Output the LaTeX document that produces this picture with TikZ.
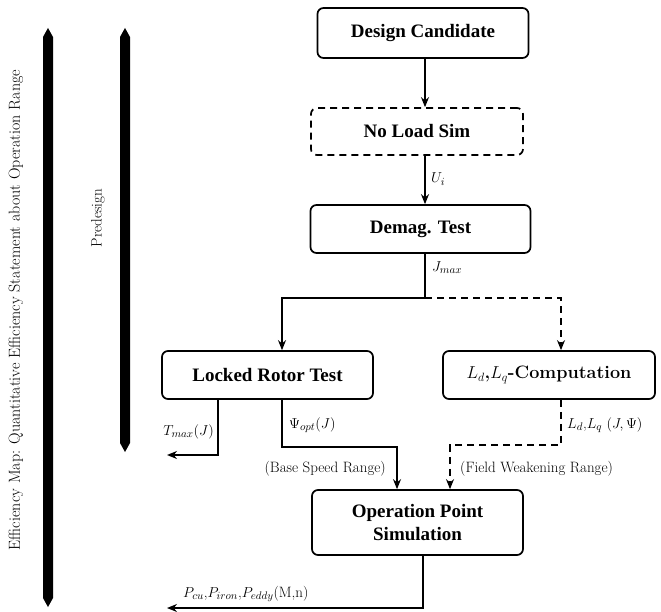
\documentclass[tikz,border=0pt]{standalone}
\usepackage{fontspec}
\newfontfamily\boxfont{Liberation Serif}
\usetikzlibrary{arrows.meta}
\begin{document}
\begin{tikzpicture}[x=1pt,y=-1pt,
  box/.style={draw, line width=1.7pt, rounded corners=6pt, align=center, inner sep=0pt,
    font=\boxfont\bfseries\fontsize{19}{23}\selectfont},
  conn/.style={line width=1.6pt, -{Stealth[length=10pt,width=8pt]}},
  dsh/.style={dash pattern=on 7pt off 5pt},
  lbl/.style={font=\fontsize{15}{17}\selectfont, inner sep=0pt},
  bigarrow/.style={fill=black}]
\useasboundingbox (0,0) rectangle (661,612);
% boxes
\node[box, minimum width=211pt, minimum height=50pt] (dc) at (423,33) {Design Candidate};
\node[box, dsh, minimum width=212pt, minimum height=47pt] (nl) at (417,131.5) {No Load Sim};
\node[box, minimum width=220pt, minimum height=48pt] (dt) at (420.5,229) {Demag. Test};
\node[box, minimum width=211pt, minimum height=48pt] (lr) at (267.5,375) {Locked Rotor Test};
\node[box, minimum width=212pt, minimum height=48pt, font=\bfseries\fontsize{18}{21}\selectfont] (ld) at (549,375) {$L_d$,$L_q$-Computation};
\node[box, minimum width=211pt, minimum height=65pt] (op) at (417.5,522.5) {Operation Point\\Simulation};
% coordinates
\coordinate (spine) at (425,0);
\coordinate (split) at (425,298);
\coordinate (lrin) at (282,0);
\coordinate (ldin) at (561,0);
\coordinate (tx) at (218,455);
\coordinate (tend) at (167,455);
\coordinate (p1) at (282,447);
\coordinate (p2) at (397,447);
\coordinate (q1) at (561,445);
\coordinate (q2) at (450,445);
\coordinate (o1) at (423,608);
\coordinate (o2) at (167,608);
% connectors
\draw[conn] (dc.south -| spine) -- (nl.north -| spine);
\draw[conn] (nl.south -| spine) -- (dt.north -| spine);
\draw[line width=1.6pt] (dt.south -| spine) -- (split);
\draw[conn] (split) -| (lr.north -| lrin);
\draw[conn, dsh] (split) -| (ld.north -| ldin);
\draw[conn] (lr.south -| tx) -- (tx) -- (tend);
\draw[conn] (lr.south -| p1) -- (p1) -- (p2) -- (op.north -| p2);
\draw[conn, dsh] (ld.south -| q1) -- (q1) -- (q2) -- (op.north -| q2);
\draw[conn] (op.south -| o1) -- (o1) -- (o2);
% labels
\node[lbl, anchor=west] (lui) at (431,179) {$U_i$};
\node[lbl, anchor=west] (ljm) at (432,268) {$J_{max}$};
\node[lbl, anchor=east] (ltm) at (214,432) {$T_{max}(J)$};
\node[lbl, anchor=west] (lpsi) at (289,425) {$\Psi_{opt}(J)$};
\node[lbl, anchor=east] (lbsr) at (386,469) {(Base Speed Range)};
\node[lbl, anchor=west] (lldq) at (567,425) {$L_d$,$L_q$ $(J,\Psi)$};
\node[lbl, anchor=west] (lfwr) at (460,469) {(Field Weakening Range)};
\node[lbl, anchor=west] (lp) at (183,594) {$P_{cu}$,$P_{iron}$,$P_{eddy}$(M,n)};
% side arrows
\fill[bigarrow] (43,37) -- (48,28) -- (53,37) -- (53,598) -- (48,607) -- (43,598) -- cycle;
\fill[bigarrow] (120,37) -- (125,28) -- (130,37) -- (130,443) -- (125,452) -- (120,443) -- cycle;
\node[lbl, rotate=90, font=\fontsize{16}{18}\selectfont] (leff) at (16,310) {Efficiency Map: Quantitative Efficiency Statement about Operation Range};
\node[lbl, rotate=90] (lpre) at (98,218) {Predesign};
\end{tikzpicture}
\end{document}
